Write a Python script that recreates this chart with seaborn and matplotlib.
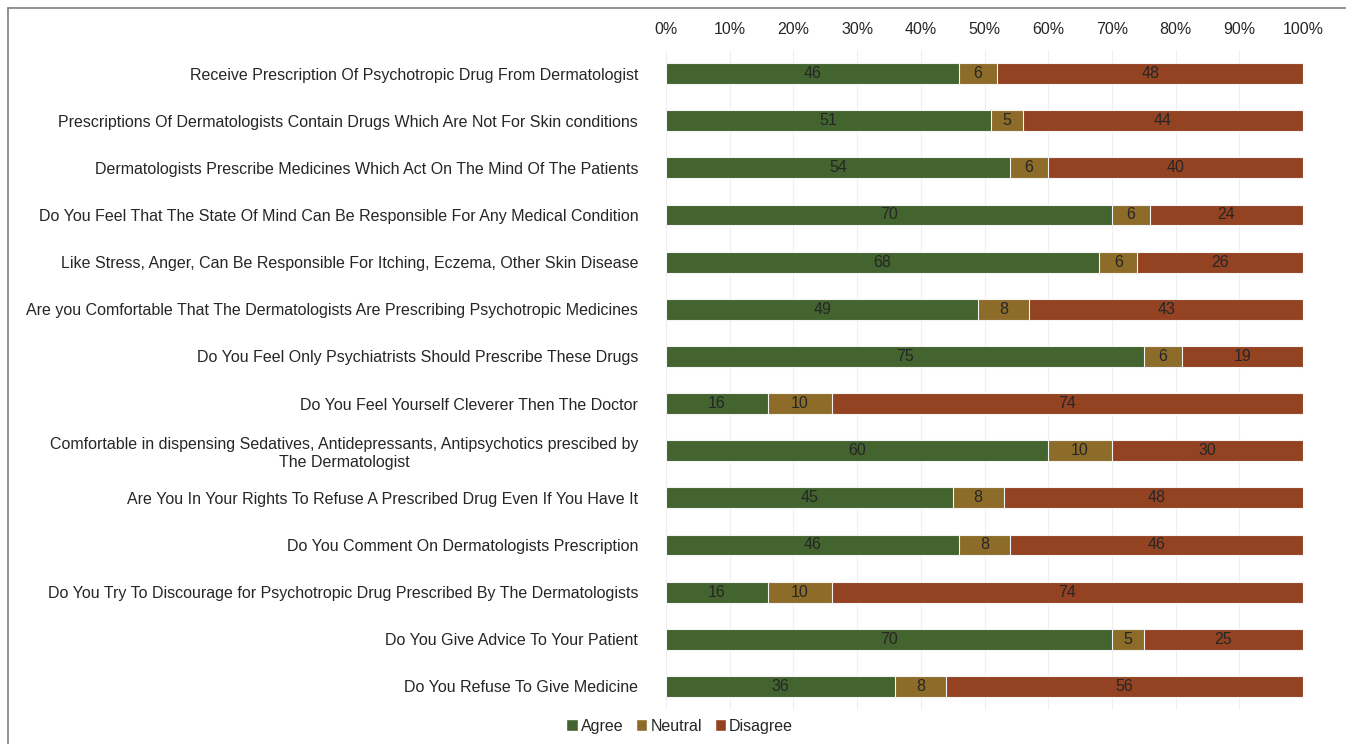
import numpy as np
import pandas as pd
import matplotlib.pyplot as plt
from matplotlib.lines import Line2D
from matplotlib.patches import Patch
import seaborn as sns

# ── Data ────────────────────────────────────────────────────────────────────
questions = [
    "Receive Prescription Of Psychotropic Drug From Dermatologist",
    "Prescriptions Of Dermatologists Contain Drugs Which Are Not For Skin conditions",
    "Dermatologists Prescribe Medicines Which Act On The Mind Of The Patients",
    "Do You Feel That The State Of Mind Can Be Responsible For Any Medical Condition",
    "Like Stress, Anger, Can Be Responsible For Itching, Eczema, Other Skin Disease",
    "Are you Comfortable That The Dermatologists Are Prescribing Psychotropic Medicines",
    "Do You Feel Only Psychiatrists Should Prescribe These Drugs",
    "Do You Feel Yourself Cleverer Then The Doctor",
    "Comfortable in dispensing Sedatives, Antidepressants, Antipsychotics prescibed by\nThe Dermatologist",
    "Are You In Your Rights To Refuse A Prescribed Drug Even If You Have It",
    "Do You Comment On Dermatologists Prescription",
    "Do You Try To Discourage for Psychotropic Drug Prescribed By The Dermatologists",
    "Do You Give Advice To Your Patient",
    "Do You Refuse To Give Medicine",
]
agree    = [46, 51, 54, 70, 68, 49, 75, 16, 60, 45, 46, 16, 70, 36]
neutral  = [6, 5, 6, 6, 6, 8, 6, 10, 10, 8, 8, 10, 5, 8]
disagree = [48, 44, 40, 24, 26, 43, 19, 74, 30, 48, 46, 74, 25, 56]

c_agree, c_neutral, c_disagree = '#43632f', '#8d6b29', '#934322'

df = pd.DataFrame({'q': questions, 'Agree': agree, 'Neutral': neutral, 'Disagree': disagree})
df['cum_an'] = df['Agree'] + df['Neutral']
df['cum_all'] = df['cum_an'] + df['Disagree']

# ── Plot ────────────────────────────────────────────────────────────────────
sns.set_theme(style="white")
plt.rcParams['font.family'] = ['Liberation Sans', 'DejaVu Sans']

fig = plt.figure(figsize=(13.46, 7.44), dpi=100)
ax = fig.add_axes([0.4948, 0.0457, 0.4733, 0.8871])

bar_kw = dict(orient='h', order=questions, width=0.44, edgecolor='#f4f4f4',
              linewidth=0.8, ax=ax)
sns.barplot(data=df, x='cum_all', y='q', color=c_disagree, saturation=1, **bar_kw)
sns.barplot(data=df, x='cum_an', y='q', color=c_neutral, saturation=1, **bar_kw)
sns.barplot(data=df, x='Agree', y='q', color=c_agree, saturation=1, **bar_kw)

# segment labels
for i, row in df.iterrows():
    starts = [0, row['Agree'], row['cum_an']]
    for s, v in zip(starts, [row['Agree'], row['Neutral'], row['Disagree']]):
        ax.text(s + v / 2, i, f'{v}', ha='center', va='center',
                fontsize=11.5, color='#262626')

ax.set_xlim(0, 100)
ax.set_ylim(len(questions) - 0.5, -0.5)
ax.set_xticks(np.arange(0, 101, 10))
ax.set_xticklabels([f'{t}%' for t in range(0, 101, 10)], fontsize=11.5, color='#262626')
ax.xaxis.tick_top()
ax.tick_params(axis='x', length=0, pad=9)
ax.tick_params(axis='y', length=0, pad=20)
for lab in ax.get_yticklabels():
    lab.set_fontsize(11.5)
    lab.set_color('#262626')
    lab.set_multialignment('center')
ax.set_xlabel('')
ax.set_ylabel('')
ax.grid(axis='x', color='#efefef', lw=0.8)
ax.set_axisbelow(True)
sns.despine(ax=ax, left=True, bottom=True)

handles = [Patch(facecolor=c, label=l) for c, l in
           [(c_agree, 'Agree'), (c_neutral, 'Neutral'), (c_disagree, 'Disagree')]]
fig.legend(handles=handles, loc='center', bbox_to_anchor=(0.505, 0.024), ncol=3,
           frameon=False, fontsize=11.5, handlelength=0.7, handleheight=0.7,
           handletextpad=0.2, columnspacing=0.8)

# outer chart border (left and top visible)
fig.add_artist(Line2D([8 / 1346, 8 / 1346], [0, 1 - 8 / 744], color='#7f7f7f', lw=1.2))
fig.add_artist(Line2D([8 / 1346, 1], [1 - 8 / 744, 1 - 8 / 744], color='#7f7f7f', lw=1.2))

plt.savefig('out.png', dpi=100)
